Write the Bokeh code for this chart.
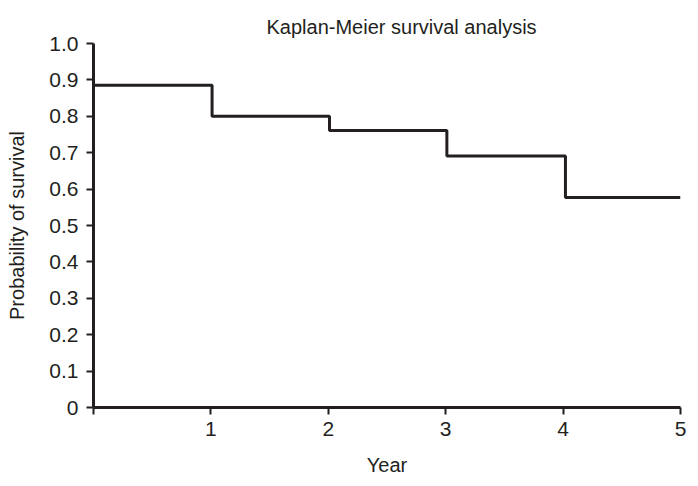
from bokeh.plotting import figure
from bokeh.models import Range1d, FixedTicker, Title
from bokeh.embed import file_html
from bokeh.resources import INLINE

# Kaplan-Meier step data
step_times = [0, 1.01, 2.01, 3.01, 4.02, 5]
survival = [0.885, 0.80, 0.761, 0.691, 0.577, 0.577]

x_ticks = [0, 1, 2, 3, 4, 5]
x_tick_labels = ["", "1", "2", "3", "4", "5"]
y_ticks = [0, 0.1, 0.2, 0.3, 0.4, 0.5, 0.6, 0.7, 0.8, 0.9, 1.0]
y_tick_labels = ["0", "0.1", "0.2", "0.3", "0.4", "0.5", "0.6", "0.7", "0.8", "0.9", "1.0"]

FONT = "Liberation Sans"
INK = "#231f20"

p = figure(width=698, height=486, output_backend="svg", toolbar_location=None,
           x_range=Range1d(0, 5), y_range=Range1d(0, 1),
           min_border_left=93, min_border_right=18, min_border_top=43, min_border_bottom=79)

p.title = Title(text="Kaplan-Meier survival analysis", align="left",
                text_font=FONT, text_font_size="20px", text_font_style="normal",
                text_color=INK, offset=173, standoff=12)

p.step(step_times, survival, mode="after", line_color=INK, line_width=3)

p.xgrid.visible = False
p.ygrid.visible = False
p.outline_line_color = None
p.background_fill_color = "white"
p.border_fill_color = "white"

for ax in (p.xaxis[0], p.yaxis[0]):
    ax.axis_line_color = INK
    ax.axis_line_width = 3
    ax.major_tick_line_color = INK
    ax.major_tick_line_width = 2
    ax.major_tick_out = 7
    ax.major_tick_in = 0
    ax.minor_tick_line_color = None
    ax.major_label_text_font = FONT
    ax.major_label_text_font_size = "21px"
    ax.major_label_text_color = INK
    ax.axis_label_text_font = FONT
    ax.axis_label_text_font_size = "20px"
    ax.axis_label_text_font_style = "normal"
    ax.axis_label_text_color = INK

p.xaxis[0].ticker = FixedTicker(ticks=x_ticks)
p.xaxis[0].major_label_overrides = {t: l for t, l in zip(x_ticks, x_tick_labels)}
p.xaxis[0].axis_label = "Year"
p.xaxis[0].major_label_standoff = 7
p.xaxis[0].axis_label_standoff = 15

p.yaxis[0].ticker = FixedTicker(ticks=y_ticks)
p.yaxis[0].major_label_overrides = {t: l for t, l in zip(y_ticks, y_tick_labels)}
p.yaxis[0].axis_label = "Probability of survival"
p.yaxis[0].major_label_standoff = 8
p.yaxis[0].axis_label_standoff = 18

open("out.html", "w").write(file_html(p, INLINE))
